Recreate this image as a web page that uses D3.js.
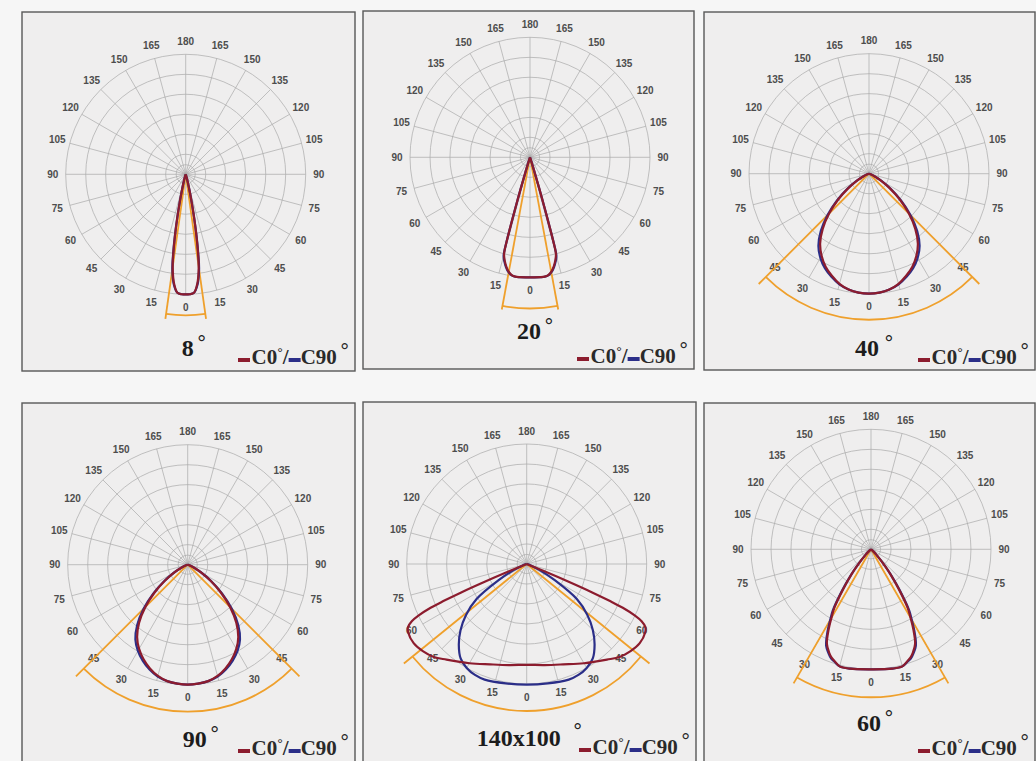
<!DOCTYPE html>
<html>
<head>
<meta charset="utf-8">
<script src="https://cdn.jsdelivr.net/npm/d3@7"></script>
<style>
  body { margin: 0; background: #f6f6f6; }
  svg { display: block; }
</style>
</head>
<body>
<script>
// beam angle titles
const titles = ["8", "20", "40", "90", "140x100", "60"];

// angle from nadir (deg) and relative intensity (% of outer ring), C0 / C90
const angles1 = [0, 2, 4, 6, 8, 9, 10, 11, 12, 14, 17, 22];
const c0_1  = [100, 100, 99, 92, 78, 65, 50, 36, 24, 10, 3, 0];
const c90_1 = [100, 100, 99, 93, 80, 67, 52, 37, 25, 11, 3, 0];

const angles2 = [0, 5, 7, 9, 10.7, 12.3, 13.8, 15, 15.5, 15.8, 16.1, 16.5, 17, 18, 20];
const c0_2  = [100, 100.3, 100.2, 99.1, 96.7, 93, 88.4, 83.5, 72, 57, 42, 27, 13, 4, 0];
const c90_2 = [100, 100.3, 100.3, 99.4, 97.2, 93.8, 89.5, 85, 74, 59, 44, 28, 14, 4, 0];

const angles3 = [0, 5, 10, 15, 20, 25, 30, 35, 40, 45, 50, 55, 60, 65, 70, 80];
const c0_3  = [100, 99.5, 98, 95, 90.5, 85.5, 79, 71, 60, 47, 33.5, 21, 11.5, 5, 1.5, 0];
const c90_3 = [100, 99.5, 98, 95.5, 91.5, 87, 81, 73.5, 62.5, 49, 35, 22, 12, 5, 1.5, 0];

const angles4 = [0, 5, 10, 15, 20, 25, 30, 35, 40, 45, 50, 55, 60, 65, 70, 80];
const c0_4  = [100, 99.5, 98.5, 96, 92, 87, 81, 73.5, 63, 50, 36, 23, 12.5, 5.5, 1.5, 0];
const c90_4 = [100, 99.5, 98.5, 96.5, 93, 88.5, 83, 76, 65.5, 52, 37.5, 24, 13, 5.5, 1.5, 0];

const angles5a = [0, 10, 20, 30, 40, 45, 50, 55, 60, 62, 63.5, 64.5, 65.5, 66, 66.5, 67, 67.5, 68.5];
const c0_5  = [84, 85.5, 89, 95.5, 104, 109.5, 113, 115, 114, 112, 107, 100, 88, 76, 60, 38, 16, 0];
const angles5b = [0, 10, 20, 25, 30, 35, 40, 45, 50, 55, 60, 65, 70, 75, 80];
const c90_5 = [100.5, 101, 102.5, 102, 100, 96, 88, 78, 66, 51, 27, 12, 4, 1, 0];

const angles6 = [0, 10, 15, 18, 20, 22, 25, 28, 30, 32, 35, 38, 40, 45, 50, 60];
const c0_6  = [100, 101, 101, 98, 96, 93, 87, 75, 66, 58, 40, 26, 18, 6, 2, 0];
const c90_6 = [100, 101, 101, 98.5, 97, 94, 88.5, 77, 68, 60, 42, 27, 19, 6, 2, 0];

// beam marker: half angle (deg), arc and line end (% of outer ring)
const beamHalf = [8, 10.5, 45, 45, 51, 30];
const beamArc  = [117.5, 126, 121.7, 122.5, 122.5, 123.3];
const beamEnd  = [121.7, 129, 130, 131.7, 131.7, 129];

// grid
const tickAngles = [0, 15, 30, 45, 60, 75, 90, 105, 120, 135, 150, 165, 180];
const ringValues = [8, 16.7, 33.3, 50, 66.7, 83.3, 100];

const panels = [
  {title: titles[0], c0: [angles1, c0_1], c90: [angles1, c90_1]},
  {title: titles[1], c0: [angles2, c0_2], c90: [angles2, c90_2]},
  {title: titles[2], c0: [angles3, c0_3], c90: [angles3, c90_3]},
  {title: titles[3], c0: [angles4, c0_4], c90: [angles4, c90_4]},
  {title: titles[4], c0: [angles5a, c0_5], c90: [angles5b, c90_5]},
  {title: titles[5], c0: [angles6, c0_6], c90: [angles6, c90_6]}
].map((d, i) => (d.beam = beamHalf[i], d.arc = beamArc[i], d.end = beamEnd[i], d));

// page layout of the six frames
const boxes = [
  {x: 22,  y: 12,  w: 333, h: 359, cx: 185.7, cy: 174.3, tdx: 2,  dg: 8},
  {x: 363, y: 11,  w: 331, h: 358, cx: 530,   cy: 157.3, tdx: -1, dg: 8},
  {x: 704, y: 12,  w: 331, h: 358, cx: 869,   cy: 173.7, tdx: -2, dg: 10},
  {x: 22,  y: 403, w: 333, h: 362, cx: 187.7, cy: 564.7, tdx: 7,  dg: 8},
  {x: 363, y: 402, w: 333, h: 363, cx: 526.7, cy: 564,   tdx: -8, dg: 17},
  {x: 704, y: 403, w: 331, h: 362, cx: 871,   cy: 549.3, tdx: -2, dg: 8}
];

const R = 120, labelR = 133;
const red = "#8c1c2e", blue = "#2b2e88", orange = "#efa02c";
const serif = "Liberation Serif, Times New Roman, serif";
const sans = "Liberation Sans, Arial, sans-serif";
const rad = d3.scaleLinear().domain([0, 100]).range([0, R]);
const toRad = a => a * Math.PI / 180;

const svg = d3.select("body").append("svg")
  .attr("width", 1036).attr("height", 761);

svg.append("rect").attr("width", 1036).attr("height", 761).attr("fill", "#f6f6f6");

const line = d3.lineRadial()
  .angle(d => Math.PI - toRad(d[0]))
  .radius(d => rad(d[1]))
  .curve(d3.curveCatmullRom.alpha(0.5));

function loop(s) {
  const [a, v] = s;
  const left = a.map((x, i) => [-x, v[i]]).reverse();
  const right = a.map((x, i) => [x, v[i]]).slice(1);
  return line(left.concat(right));
}

const panel = svg.selectAll("g.panel")
  .data(panels)
  .join("g").attr("class", "panel");

panel.each(function(d, i) {
  const b = boxes[i];
  const g = d3.select(this);

  g.append("rect")
    .attr("x", b.x).attr("y", b.y).attr("width", b.w).attr("height", b.h)
    .attr("fill", "#efeeee").attr("stroke", "#585858").attr("stroke-width", 1.4);

  const p = g.append("g").attr("transform", `translate(${b.cx},${b.cy})`);

  p.selectAll("circle.ring").data(ringValues).join("circle")
    .attr("class", "ring").attr("r", v => rad(v))
    .attr("fill", "none").attr("stroke", "#a9a9a9").attr("stroke-width", 0.7);

  const spokes = tickAngles.flatMap(a => a === 0 || a === 180 ? [a] : [a, -a]);

  p.selectAll("line.spoke").data(spokes).join("line")
    .attr("class", "spoke")
    .attr("x2", a => R * Math.sin(toRad(a)))
    .attr("y2", a => R * Math.cos(toRad(a)))
    .attr("stroke", "#a9a9a9").attr("stroke-width", 0.7);

  p.selectAll("text.tick").data(spokes).join("text")
    .attr("class", "tick")
    .attr("x", a => labelR * Math.sin(toRad(a)))
    .attr("y", a => labelR * Math.cos(toRad(a)))
    .attr("text-anchor", "middle").attr("dominant-baseline", "central")
    .attr("font-family", sans)
    .attr("font-weight", "bold").attr("font-size", 10).attr("fill", "#4d4d4d")
    .text(a => Math.abs(a));

  // beam angle marker
  const arc = d3.arc()
    .innerRadius(rad(d.arc)).outerRadius(rad(d.arc))
    .startAngle(Math.PI - toRad(d.beam)).endAngle(Math.PI + toRad(d.beam));
  p.append("path").attr("d", arc())
    .attr("fill", "none").attr("stroke", orange).attr("stroke-width", 1.8);
  p.selectAll("line.beam").data([-d.beam, d.beam]).join("line")
    .attr("class", "beam")
    .attr("x2", a => rad(d.end) * Math.sin(toRad(a)))
    .attr("y2", a => rad(d.end) * Math.cos(toRad(a)))
    .attr("stroke", orange).attr("stroke-width", 1.8);

  p.append("path").attr("d", loop(d.c90))
    .attr("fill", "none").attr("stroke", blue).attr("stroke-width", 2.2);
  p.append("path").attr("d", loop(d.c0))
    .attr("fill", "none").attr("stroke", red).attr("stroke-width", 2.2);

  // title
  const ty = b.cy + 182;
  const t = g.append("text")
    .attr("x", b.cx + b.tdx).attr("y", ty)
    .attr("text-anchor", "middle")
    .attr("font-family", serif)
    .attr("font-weight", "bold").attr("font-size", 24).attr("fill", "#1c1c1c")
    .text(d.title);
  const tw = t.node().getComputedTextLength();
  g.append("text")
    .attr("x", b.cx + b.tdx + tw / 2 + b.dg).attr("y", ty - (i === 4 ? 7 : 5))
    .attr("text-anchor", "middle")
    .attr("font-family", sans)
    .attr("font-size", 22).attr("fill", "#222")
    .text("°");

  // legend: one text run, coloured dashes drawn as rects
  const lx = b.x + b.w - 117, ly = b.y + 352;
  const lt = g.append("text").attr("x", lx + 13.5).attr("y", ly)
    .attr("font-family", serif).attr("font-weight", "bold")
    .attr("font-size", 21).attr("fill", "#2a2a2a");
  lt.append("tspan").text("C0");
  lt.append("tspan").attr("dx", 0).attr("dy", -6)
    .attr("font-family", sans).attr("font-weight", "normal").attr("font-size", 14).text("°");
  lt.append("tspan").attr("dx", 0).attr("dy", 6).text("/");
  lt.append("tspan").attr("dx", 12).text("C90");
  lt.append("tspan").attr("dx", 3.5).attr("dy", -5)
    .attr("font-family", sans).attr("font-weight", "normal").attr("font-size", 22).text("°");

  const c90x = lt.node().getStartPositionOfChar(4).x;
  g.append("rect").attr("x", lx).attr("y", ly - 6).attr("width", 12).attr("height", 4).attr("fill", red);
  g.append("rect").attr("x", c90x - 12).attr("y", ly - 6).attr("width", 12).attr("height", 4).attr("fill", blue);
});
</script>
</body>
</html>
